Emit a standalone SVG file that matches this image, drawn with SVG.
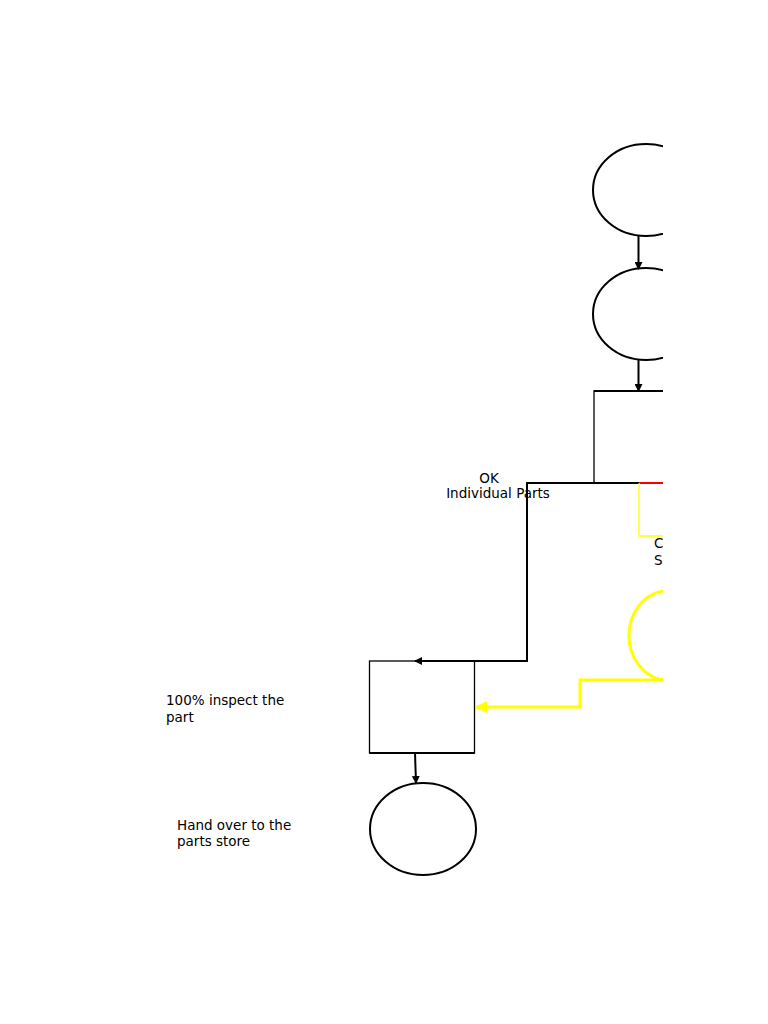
<svg xmlns="http://www.w3.org/2000/svg" width="768" height="1024" viewBox="0 0 768 1024">
<defs>
<style>
.n{fill:#fff;stroke:#000;stroke-width:2}
.t{font-family:"DejaVu Sans",sans-serif;font-size:13.5px;fill:#000}
.c{fill:none;stroke:#000;stroke-width:2}
</style>
<marker id="a" markerWidth="8" markerHeight="8" refX="7" refY="4" orient="auto" markerUnits="userSpaceOnUse"><path d="M0,0 L8,4 L0,8 z" fill="#000"/></marker>
<marker id="y" markerWidth="12" markerHeight="12" refX="11" refY="6" orient="auto" markerUnits="userSpaceOnUse"><path d="M0,0 L12,6 L0,12 z" fill="#ff0"/></marker>
<clipPath id="cp"><rect x="0" y="0" width="663" height="1024"/></clipPath>
</defs>
<g clip-path="url(#cp)">
<g id="n1"><ellipse class="n" cx="646" cy="190" rx="53" ry="46"/></g>
<g id="n2"><ellipse class="n" cx="646" cy="314" rx="53" ry="46"/></g>
<g id="n3"><path d="M594,483 V391 H700" fill="none" stroke="#000" stroke-width="1.3"/><path d="M594,391 H700" stroke="#000" stroke-width="2"/></g>
<g id="n4"><path d="M663,591 A40,45 0 0 0 663,680" fill="none" stroke="#ff0" stroke-width="3"/></g>
<g id="n5"><rect x="369.5" y="661" width="105" height="92" fill="#fff" stroke="#000" stroke-width="1.3"/><path d="M369.5,753 H474.5" stroke="#000" stroke-width="2"/></g>
<g id="n6"><ellipse class="n" cx="423" cy="829" rx="53" ry="46"/></g>
<g id="edges">
<path class="c" d="M638.5,236 V269" marker-end="url(#a)"/>
<path class="c" d="M638.5,360 V391" marker-end="url(#a)"/>
<path class="c" d="M594,483 H527 V661 H415" marker-end="url(#a)"/>
<path class="c" d="M594,483 H639"/>
<path d="M639,483 H670" stroke="#f00" stroke-width="2"/>
<path d="M639,483 V536 H670" fill="none" stroke="#ff0" stroke-width="1.3"/>
<path d="M670,680 H580 V707 H476" fill="none" stroke="#ff0" stroke-width="3" marker-end="url(#y)"/>
<path class="c" d="M415,753 L416,783" marker-end="url(#a)"/>
</g>
<text class="t" x="654" y="548">C</text>
<text class="t" x="654" y="565">S</text>
</g>
<text class="t" x="489" y="483" text-anchor="middle">OK</text>
<text class="t" x="498" y="498" text-anchor="middle">Individual Parts</text>
<text class="t" x="166" y="705">100% inspect the</text>
<text class="t" x="166" y="722">part</text>
<text class="t" x="177" y="830">Hand over to the</text>
<text class="t" x="177" y="846">parts store</text>
</svg>
